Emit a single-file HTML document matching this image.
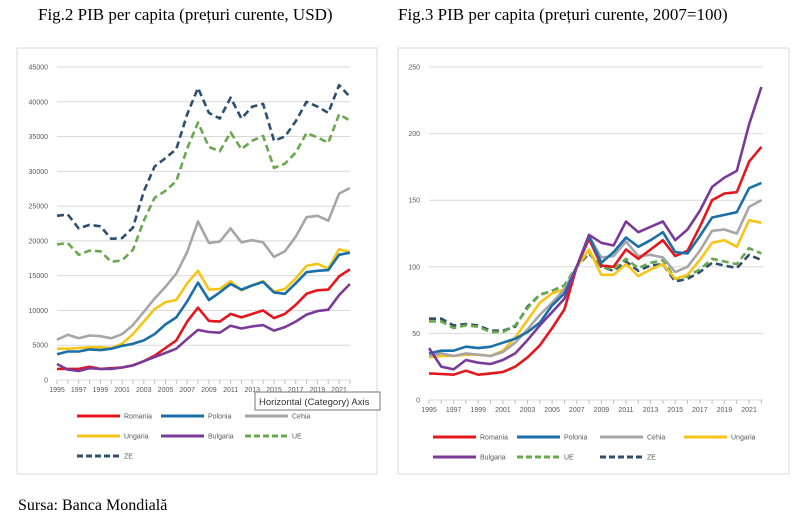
<!DOCTYPE html>
<html><head><meta charset="utf-8"><style>
body{margin:0;background:#fff;width:800px;height:528px;overflow:hidden;font-family:"Liberation Serif",serif}
.t{position:absolute;font-size:17px;color:#000;white-space:nowrap}
</style></head><body>
<div class="t" style="left:38px;top:5px">Fig.2 PIB per capita (prețuri curente, USD)</div>
<div class="t" style="left:398px;top:5px">Fig.3 PIB per capita (prețuri curente, 2007=100)</div>
<div class="t" style="left:18px;top:497px;font-size:16px">Sursa: Banca Mondială</div>
<svg id="s" width="800" height="528" style="position:absolute;left:0;top:0" font-family="Liberation Sans, sans-serif"></svg>
<script>
const C={Romania:'#e3171d',Polonia:'#1a6fa8',Cehia:'#a6a6a6',Ungaria:'#f5c518',Bulgaria:'#7a3b98',UE:'#6aa84f',ZE:'#2f4f70'};
const D1={
Romania:[1.6,1.6,1.6,1.9,1.6,1.7,1.8,2.1,2.7,3.5,4.6,5.7,8.4,10.4,8.5,8.4,9.5,9.0,9.5,10.0,8.9,9.5,10.8,12.4,12.9,13.0,14.9,15.9],
Polonia:[3.7,4.1,4.1,4.4,4.3,4.5,4.9,5.2,5.7,6.6,8.0,9.0,11.3,14.0,11.5,12.6,13.8,13.0,13.6,14.1,12.6,12.4,13.9,15.5,15.7,15.8,18.0,18.3],
Cehia:[5.8,6.5,6.0,6.4,6.3,6.0,6.6,7.9,9.8,11.7,13.4,15.3,18.4,22.8,19.7,19.9,21.8,19.8,20.1,19.8,17.7,18.5,20.6,23.4,23.6,22.9,26.8,27.6],
Ungaria:[4.5,4.5,4.6,4.7,4.7,4.6,5.2,6.6,8.4,10.2,11.2,11.5,13.9,15.7,13.0,13.1,14.2,12.9,13.6,14.2,12.7,13.1,14.6,16.4,16.7,16.0,18.8,18.4],
Bulgaria:[2.3,1.5,1.3,1.7,1.6,1.6,1.8,2.1,2.7,3.3,3.9,4.5,5.9,7.2,6.9,6.8,7.8,7.4,7.7,7.9,7.1,7.6,8.4,9.4,9.9,10.1,12.2,13.8],
UE:[19.5,19.7,18.0,18.6,18.5,17.0,17.2,18.7,22.9,26.2,27.2,28.6,33.3,37.0,33.5,32.9,35.6,33.2,34.4,35.1,30.5,31.1,32.7,35.5,34.9,34.1,38.2,37.3],
ZE:[23.6,23.8,21.8,22.3,22.1,20.3,20.4,21.9,27.1,30.7,31.9,33.2,38.2,42.0,38.4,37.6,40.6,37.6,39.3,39.7,34.4,35.0,37.2,40.0,39.3,38.4,42.4,40.7]};
const D2={
Romania:[20,19.5,19,22,19,20,21,25,32,41,54,68,100,121,101,100,113,106,113,120,108,112,130,150,155,156,179,190],
Polonia:[35,37,37,40,39,40,43,46,51,58,71,80,100,123,103,111,122,115,120,126,111,110,123,137,139,141,159,163],
Cehia:[33,35,33,35,34,33,36,43,53,64,73,83,100,123,107,108,119,108,109,107,96,100,112,127,128,125,145,150],
Ungaria:[32,33,33,34,34,33,37,47,60,73,80,83,100,113,94,94,102,93,98,102,91,94,105,118,120,115,135,133],
Bulgaria:[39,25,23,30,28,27,30,35,45,56,66,76,100,124,118,116,134,126,130,134,120,128,142,160,167,172,207,235],
UE:[59,59,54,56,55,51,51,56,69,79,82,86,100,111,100,98,106,99,103,105,91,93,98,106,104,102,114,110],
ZE:[61,61,56,57,56,52,52,55,70,79,82,86,100,110,100,97,104,97,101,102,89,91,96,103,101,99,109,105]};
let h='';
function ln(name,x1,y1,x2,y2){const d=(name=='UE'||name=='ZE')?' stroke-dasharray="6,3"':'';return `<line x1="${x1}" y1="${y1}" x2="${x2}" y2="${y2}" stroke="${C[name]}" stroke-width="3"${d}/>`;}
function chart(bx,bw,x0,xs,xe,ytop,ybot,ymax,step,lab,D,order,leg){
 h+=`<rect x="${bx}" y="48" width="${bw}" height="426" fill="#fff" stroke="#d9d9d9"/>`;
 for(let v=0;v<=ymax;v+=step){const y=ybot-(ybot-ytop)*v/ymax;
  h+=`<line x1="${x0}" y1="${y}" x2="${xe}" y2="${y}" stroke="#d9d9d9" stroke-width="1"/>`;
  h+=`<text x="${x0-9}" y="${y+2.5}" font-size="7" fill="#595959" text-anchor="end">${lab(v)}</text>`;}
 for(let i=0;i<28;i++){const x=x0+i*xs;h+=`<line x1="${x}" y1="${ybot}" x2="${x}" y2="${ybot+4}" stroke="#bfbfbf"/>`;
  if(i%2==0)h+=`<text x="${x}" y="${ybot+12}" font-size="7" fill="#595959" text-anchor="middle">${1995+i}</text>`;}
 for(const n of order){const p=D[n].map((v,i)=>`${(x0+i*xs).toFixed(1)},${(ybot-(ybot-ytop)*v/ymax).toFixed(1)}`).join(' ');
  const d=(n=='UE'||n=='ZE')?' stroke-dasharray="7,4"':'';
  h+=`<polyline points="${p}" fill="none" stroke="${C[n]}" stroke-width="2.6" stroke-linejoin="round"${d}/>`;}
 for(const [n,x,y] of leg){h+=ln(n,x,y,x+43,y);h+=`<text x="${x+47}" y="${y+2.5}" font-size="7" fill="#595959">${n}</text>`;}
}
chart(17,360,57,10.85,350,67,380,45000,5000,v=>v,Object.fromEntries(Object.entries(D1).map(([k,a])=>[k,a.map(v=>v*1000)])),
 ['ZE','UE','Cehia','Ungaria','Polonia','Romania','Bulgaria'],
 [['Romania',77,416],['Polonia',161,416],['Cehia',245,416],['Ungaria',77,436],['Bulgaria',161,436],['UE',245,436],['ZE',77,456]]);
chart(398,391,429,12.31,763,67,400,250,50,v=>v,D2,
 ['ZE','UE','Ungaria','Cehia','Romania','Polonia','Bulgaria'],
 [['Romania',433,437],['Polonia',517,437],['Cehia',600,437],['Ungaria',684,437],['Bulgaria',433,457],['UE',517,457],['ZE',600,457]]);
h+=`<rect x="255" y="392" width="125" height="18" fill="#fff" stroke="#767676"/><text x="259" y="405" font-size="9.5" fill="#333">Horizontal (Category) Axis</text>`;
document.getElementById('s').innerHTML=h;
</script>
</body></html>
